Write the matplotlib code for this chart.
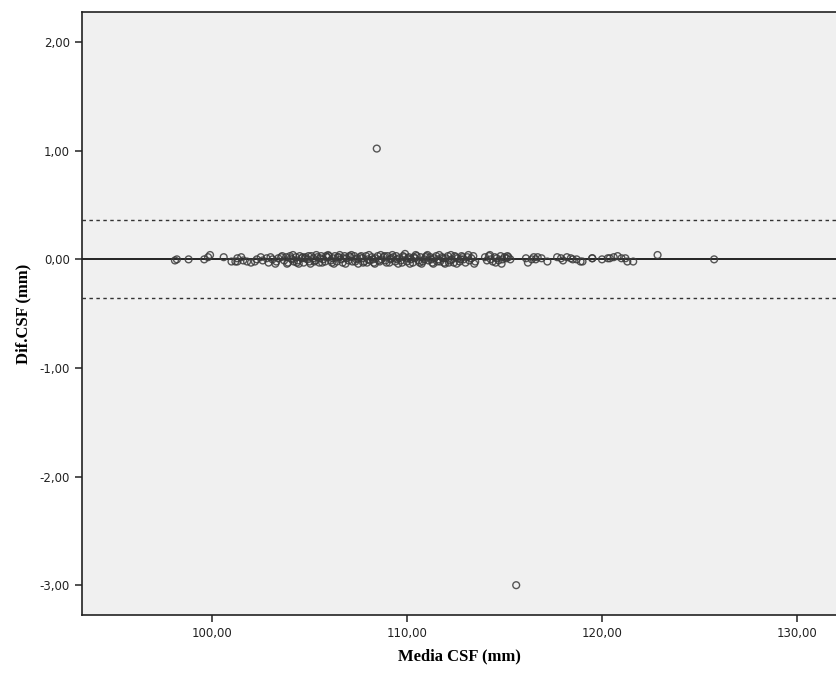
import matplotlib
matplotlib.use("Agg")
import matplotlib.pyplot as plt
from matplotlib.ticker import FuncFormatter

media = [98.1, 98.2, 98.8, 99.6, 99.8, 99.9, 100.6, 101.0, 101.2, 101.3, 101.3, 101.5, 101.6, 101.8, 102.0,
         102.2, 102.3, 102.5, 102.6, 102.8, 102.9, 103.0, 103.1, 103.3, 103.4, 103.6, 103.7, 103.8, 103.9,
         104.0, 104.05, 104.1, 104.2, 104.3, 104.35, 104.4, 104.5, 104.6, 104.65, 104.7, 104.8, 104.9, 104.95,
         105.0, 105.1, 105.2, 105.25, 105.3, 105.4, 105.5, 105.55, 105.6, 105.7, 105.8, 105.85, 105.9,
         106.0, 106.1, 106.15, 106.2, 106.3, 106.4, 106.45, 106.5, 106.6, 106.7, 106.75, 106.8, 106.9,
         107.0, 107.05, 107.1, 107.2, 107.3, 107.35, 107.4, 107.5, 107.6, 107.65, 107.7, 107.8, 107.9, 107.95,
         108.0, 108.1, 108.2, 108.25, 108.3, 108.4, 108.5, 108.55, 108.6, 108.7, 108.8, 108.85, 108.9,
         109.0, 109.1, 109.15, 109.2, 109.3, 109.4, 109.45, 109.5, 109.6, 109.7, 109.75, 109.8, 109.9,
         110.0, 110.05, 110.1, 110.2, 110.3, 110.35, 110.4, 110.5, 110.6, 110.65, 110.7, 110.8, 110.9, 110.95,
         111.0, 111.1, 111.2, 111.25, 111.3, 111.4, 111.5, 111.55, 111.6, 111.7, 111.8, 111.85, 111.9,
         112.0, 112.1, 112.15, 112.2, 112.3, 112.4, 112.45, 112.5, 112.6, 112.7, 112.75, 112.8, 112.9,
         113.0, 113.1, 113.2, 113.3, 113.4, 113.5, 114.0, 114.1, 114.2, 114.3, 114.4, 114.5, 114.6, 114.7,
         114.8, 114.9, 115.0, 115.1, 115.2, 115.3,
         116.1, 116.2, 116.4, 116.5, 116.6, 116.7, 116.9, 117.2, 117.7, 117.9, 118.0, 118.2, 118.4, 118.5,
         118.7, 118.9, 119.0, 119.5, 119.5, 120.0, 120.3, 120.4, 120.6, 120.8, 121.0, 121.2, 121.3, 121.6,
         122.85, 125.75,
         # second layer in the dense band
         103.25, 103.55, 103.85, 104.15, 104.45, 104.75, 105.05, 105.35, 105.65, 105.95, 106.25, 106.55,
         106.85, 107.15, 107.45, 107.75, 108.05, 108.35, 108.65, 108.95, 109.25, 109.55, 109.85, 110.15,
         110.45, 110.75, 111.05, 111.35, 111.65, 111.95, 112.25, 112.55, 112.85, 113.15, 113.45, 114.25,
         114.55, 114.85, 115.15,
         108.45, 115.6]
dif = [-0.01, 0.00, 0.00, 0.00, 0.02, 0.04, 0.02, -0.02, -0.02, 0.01, -0.02, 0.02, -0.01, -0.02, -0.03,
       -0.02, 0.00, 0.02, -0.01, 0.01, -0.03, 0.02, 0.00, -0.02, 0.01, 0.03, -0.01, 0.02, -0.03,
       0.03, 0.01, 0.00, -0.02, 0.02, -0.03, -0.01, 0.03, 0.01, 0.02, -0.03, 0.02, 0.00, 0.03,
       -0.02, 0.03, 0.01, -0.02, -0.01, 0.02, -0.03, 0.01, 0.03, 0.00, -0.02, 0.03, 0.02,
       0.03, -0.01, -0.03, 0.01, 0.03, -0.02, 0.02, 0.02, 0.00, -0.03, 0.01, 0.03, 0.01,
       -0.01, 0.03, 0.02, -0.02, 0.03, -0.02, 0.00, -0.04, 0.02, 0.03, 0.01, -0.02, 0.03, -0.03,
       0.00, -0.01, 0.02, 0.00, -0.03, 0.01, 0.03, -0.01, -0.02, 0.00, 0.02, 0.03, -0.01,
       0.03, -0.03, 0.00, 0.01, 0.02, -0.02, 0.03, 0.00, 0.01, -0.01, -0.03, 0.03, 0.05,
       -0.02, 0.01, 0.02, 0.00, -0.03, 0.02, 0.01, 0.03, -0.01, -0.03, 0.02, -0.02, 0.00, 0.02,
       0.03, -0.01, 0.02, 0.00, -0.03, 0.01, 0.03, -0.02, 0.00, -0.02, 0.02, 0.01, -0.03,
       0.01, 0.03, -0.03, -0.01, 0.00, -0.03, 0.03, 0.02, 0.01, -0.02, 0.00, 0.03, 0.00,
       -0.03, 0.02, -0.01, 0.01, 0.03, -0.02, 0.02, -0.01, 0.03, 0.00, -0.02, 0.02, 0.01, -0.01,
       0.03, 0.00, 0.02, 0.01, 0.02, 0.00,
       0.01, -0.03, 0.00, 0.02, 0.00, 0.02, 0.01, -0.02, 0.02, 0.01, -0.01, 0.02, 0.01, 0.00,
       0.00, -0.02, -0.02, 0.01, 0.01, 0.00, 0.01, 0.01, 0.02, 0.03, 0.01, 0.01, -0.02, -0.02,
       0.04, 0.00,
       -0.04, 0.02, -0.04, 0.04, -0.04, 0.01, -0.04, 0.04, -0.03, 0.04, -0.04, 0.04,
       -0.04, 0.04, 0.01, -0.03, 0.04, -0.04, 0.04, -0.03, 0.04, -0.04, 0.02, -0.04,
       0.04, -0.04, 0.04, -0.04, 0.04, -0.04, 0.04, -0.04, 0.02, 0.04, -0.04, 0.04,
       -0.03, -0.04, 0.03,
       1.02, -3.00]

media_dif = 0.0
lim_sup = 0.36
lim_inf = -0.36

fig = plt.figure(figsize=(8.36, 6.76), dpi=100)
ax = fig.add_axes([0.098, 0.09, 0.902, 0.892])
ax.set_facecolor("#f0f0f0")

ax.scatter(media, dif, s=24, facecolors="none", edgecolors="#3a3a3a", linewidths=1.0, alpha=0.85, zorder=3)
ax.axhline(media_dif, color="black", lw=1.2, zorder=2)
ax.axhline(lim_sup, color="#333333", lw=1.0, ls=(0, (2.5, 2.5)), zorder=2)
ax.axhline(lim_inf, color="#333333", lw=1.0, ls=(0, (2.5, 2.5)), zorder=2)

ax.set_xlim(93.33, 132.0)
ax.set_ylim(-3.276, 2.276)
ax.set_xticks([100, 110, 120, 130])
ax.set_yticks([-3, -2, -1, 0, 1, 2])
fmt = FuncFormatter(lambda v, p: ("%.2f" % v).replace(".", ","))
ax.xaxis.set_major_formatter(fmt)
ax.yaxis.set_major_formatter(fmt)
ax.tick_params(direction="out", length=5, width=1.2, color="#333333", labelsize=8.5, labelcolor="#222222")

for s in ["left", "bottom", "top"]:
    ax.spines[s].set_linewidth(1.2)
    ax.spines[s].set_color("#222222")
ax.spines["right"].set_visible(False)

ax.set_xlabel("Media CSF (mm)", family="Liberation Serif", fontweight="bold", fontsize=12, labelpad=6)
ax.set_ylabel("Dif.CSF (mm)", family="Liberation Serif", fontweight="bold", fontsize=12, labelpad=6)

fig.savefig("out.png", dpi=100)
